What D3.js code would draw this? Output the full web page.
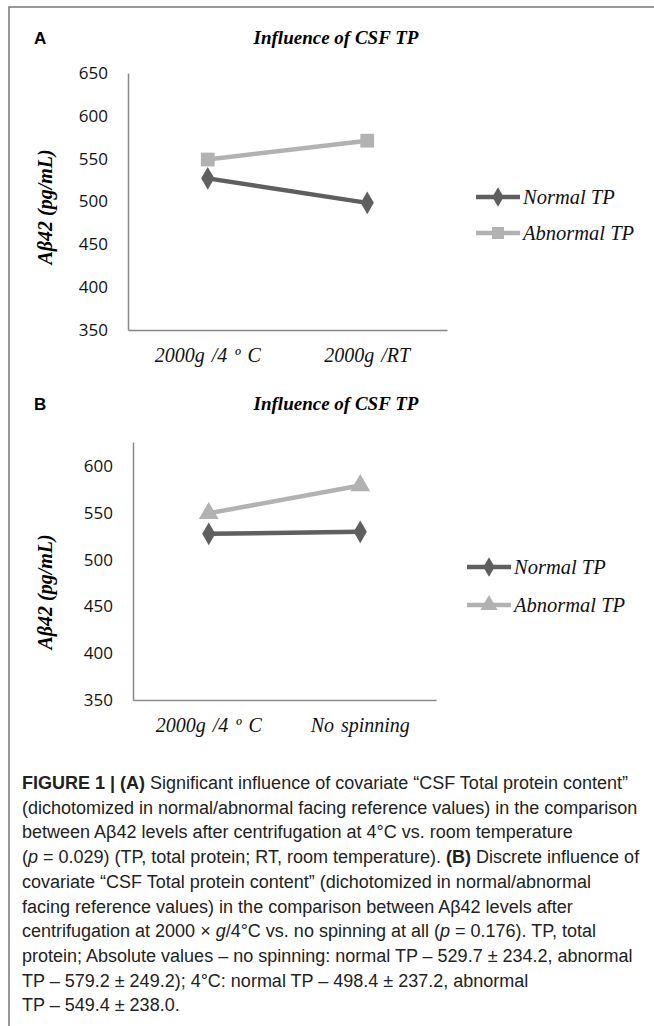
<!DOCTYPE html>
<html>
<head>
<meta charset="utf-8">
<script src="https://cdn.jsdelivr.net/npm/d3@7"></script>
<style>
  body { margin: 0; background: #fff; }
  svg { display: block; }
</style>
</head>
<body>
<div id="fig"></div>
<script>
//          Chart data
var seriesNames = ["Normal TP", "Abnormal TP"];
var catsA = ["2000g /4 º C", "2000g /RT"];
var normalA = [527, 498.4];
var abnormalA = [549, 571];
var ticksA = [350, 400, 450, 500, 550, 600, 650];

var catsB = ["2000g /4 º C", "No spinning"];
var normalB = [527.5, 529.7];
var abnormalB = [549.4, 579.2];
var ticksB = [350, 400, 450, 500, 550, 600];

var captionLines = [
    [["b", "FIGURE 1 | (A)"], ["", " Significant influence of covariate “CSF Total protein content”"]],
    [["", "(dichotomized in normal/abnormal facing reference values) in the comparison"]],
    [["", "between Aβ42 levels after centrifugation at 4°C vs. room temperature"]],
    [["", "("], ["i", "p"], ["", " = 0.029) (TP, total protein; RT, room temperature). "], ["b", "(B)"], ["", " Discrete influence of"]],
    [["", "covariate “CSF Total protein content” (dichotomized in normal/abnormal"]],
    [["", "facing reference values) in the comparison between Aβ42 levels after"]],
    [["", "centrifugation at 2000 × "], ["i", "g"], ["", "/4°C vs. no spinning at all ("], ["i", "p"], ["", " = 0.176). TP, total"]],
    [["", "protein; Absolute values – no spinning: normal TP – 529.7 ± 234.2, abnormal"]],
    [["", "TP – 579.2 ± 249.2); 4°C: normal TP – 498.4 ± 237.2, abnormal"]],
    [["", "TP – 549.4 ± 238.0."]]
];

//          Settings
var W = 654, H = 1026;
var darkCol = "#5f5f5f", lightCol = "#b2b2b2", axisCol = "#888888";
var serif = "'Liberation Serif', 'DejaVu Serif', serif";
var sans = "'Liberation Sans', Arial, sans-serif";

var svg = d3.select("#fig").append("svg")
    .attr("width", W).attr("height", H);

// figure frame (top + left only)
svg.append("path")
    .attr("d", "M9,1026 V7 H654")
    .attr("fill", "none")
    .attr("stroke", "#777")
    .attr("stroke-width", 1.5);

function markerPath(type, size) {
    var sym = type === "diamond" ? d3.symbolDiamond : (type === "square" ? d3.symbolSquare : d3.symbolTriangle);
    return d3.symbol().type(sym).size(size)();
}

function drawPanel(p) {
    var g = svg.append("g");

    var x = d3.scaleBand().domain(p.cats).range([p.x0, p.x1]);
    var y = d3.scaleLinear().domain(p.yDomain).range([p.y0, p.y1]);

    // panel letter
    g.append("text").text(p.letter)
        .attr("x", 34).attr("y", p.titleY)
        .style("font-family", sans).style("font-weight", "bold").style("font-size", "17px");

    // title
    g.append("text").text("Influence of CSF TP")
        .attr("x", p.titleX).attr("y", p.titleY)
        .attr("text-anchor", "middle")
        .style("font-family", serif).style("font-weight", "bold").style("font-style", "italic")
        .style("font-size", "19px");

    // y axis
    var yAxis = d3.axisLeft(y).tickValues(p.ticks).tickSize(0).tickPadding(20);
    var ya = g.append("g").attr("transform", "translate(" + p.x0 + ",0)").call(yAxis);
    ya.select(".domain").attr("stroke", axisCol).attr("stroke-width", 1.5);
    ya.selectAll("text")
        .style("font-family", "'Open Sans', sans-serif").style("font-size", "17px").attr("fill", "#111");

    // x axis
    var xAxis = d3.axisBottom(x).tickSize(0).tickPadding(18);
    var xa = g.append("g").attr("transform", "translate(0," + p.y0 + ")").call(xAxis);
    xa.select(".domain").attr("stroke", axisCol).attr("stroke-width", 1.5);
    xa.selectAll("text")
        .style("font-family", serif).style("font-style", "italic").style("font-size", "20px")
        .style("word-spacing", "2px").attr("fill", "#111");

    // y title
    g.append("text").text("Aβ42 (pg/mL)")
        .attr("transform", "translate(" + p.yTitleX + "," + p.yTitleY + ") rotate(-90)")
        .attr("text-anchor", "middle")
        .style("font-family", serif).style("font-weight", "bold").style("font-style", "italic")
        .style("font-size", "20px");

    var series = [
        {name: seriesNames[0], vals: p.normal, col: darkCol, mk: "diamond", size: 150},
        {name: seriesNames[1], vals: p.abnormal, col: lightCol, mk: p.abMarker, size: p.abMarker === "square" ? 190 : 170}
    ];

    var line = d3.line()
        .x(function(d, i) { return x(p.cats[i]) + x.bandwidth() / 2; })
        .y(function(d) { return y(d); });

    series.forEach(function(s, si) {
        g.append("path").datum(s.vals)
            .attr("d", line)
            .attr("fill", "none").attr("stroke", s.col).attr("stroke-width", 4.5);
        g.selectAll(".mk" + si).data(s.vals).enter().append("path")
            .attr("d", markerPath(s.mk, s.size))
            .attr("transform", function(d, i) {
                return "translate(" + (x(p.cats[i]) + x.bandwidth() / 2) + "," + y(d) + ")";
            })
            .attr("fill", s.col);

        // legend
        var ly = p.legY + si * p.legGap;
        g.append("line")
            .attr("x1", p.legX).attr("x2", p.legX + 44).attr("y1", ly).attr("y2", ly)
            .attr("stroke", s.col).attr("stroke-width", 4.5);
        g.append("path")
            .attr("d", markerPath(s.mk, s.size * 0.75))
            .attr("transform", "translate(" + (p.legX + 22) + "," + ly + ")")
            .attr("fill", s.col);
        g.append("text").text(s.name)
            .attr("x", p.legX + 47).attr("y", ly + 7)
            .style("font-family", serif).style("font-style", "italic").style("font-size", "20.5px")
            .attr("fill", "#111");
    });
}

drawPanel({
    letter: "A", cats: catsA, normal: normalA, abnormal: abnormalA, ticks: ticksA,
    yDomain: [350, 650], x0: 128, x1: 447, y0: 330, y1: 73,
    titleX: 336, titleY: 44, yTitleX: 52, yTitleY: 207,
    abMarker: "square", legX: 476, legY: 197, legGap: 36
});

drawPanel({
    letter: "B", cats: catsB, normal: normalB, abnormal: abnormalB, ticks: ticksB,
    yDomain: [350, 625.6], x0: 133, x1: 436, y0: 700, y1: 442,
    titleX: 336, titleY: 410, yTitleX: 52, yTitleY: 592,
    abMarker: "triangle", legX: 467, legY: 567, legGap: 38
});

//          Caption
var cap = svg.append("g");
captionLines.forEach(function(parts, li) {
    var t = cap.append("text")
        .attr("x", 22).attr("y", 789 + li * 24.7)
        .style("font-family", sans).style("font-size", "18px").attr("fill", "#222");
    parts.forEach(function(pt) {
        var ts = t.append("tspan").text(pt[1]);
        if (pt[0] === "b") ts.style("font-weight", "bold");
        if (pt[0] === "i") ts.style("font-style", "italic");
    });
});
</script>
</body>
</html>
